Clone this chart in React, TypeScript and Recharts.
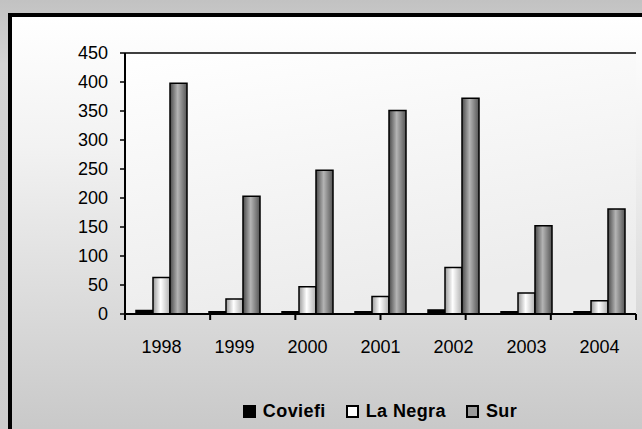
import React from "react";
import {
  BarChart,
  Bar,
  XAxis,
  YAxis,
  CartesianGrid,
  Legend,
} from "recharts";

const years = ["1998", "1999", "2000", "2001", "2002", "2003", "2004"];
const coviefi = [6, 4, 4, 4, 7, 4, 4];
const laNegra = [63, 26, 47, 30, 80, 36, 23];
const sur = [398, 203, 248, 351, 372, 152, 181];
const yTicks = [0, 50, 100, 150, 200, 250, 300, 350, 400, 450];
const bandTicks = [0, 1, 2, 3, 4, 5, 6, 7];

const data = years.map((year, i) => ({
  year,
  Coviefi: coviefi[i],
  "La Negra": laNegra[i],
  Sur: sur[i],
}));

const font = "'Liberation Sans', Arial, sans-serif";

const legendItems = [
  { name: "Coviefi", fill: "#000" },
  { name: "La Negra", fill: "#fff" },
  { name: "Sur", fill: "#9a9a9a" },
];

function ChartLegend() {
  return (
    <div
      style={{
        display: "flex",
        justifyContent: "center",
        alignItems: "center",
        height: 22,
        fontFamily: font,
        fontWeight: "bold",
        fontSize: 18,
        letterSpacing: 0.4,
        color: "#000",
        paddingLeft: 118,
        boxSizing: "border-box",
      }}
    >
      {legendItems.map((it, i) => (
        <span
          key={it.name}
          style={{
            display: "flex",
            alignItems: "center",
            marginRight: i < legendItems.length - 1 ? 20 : 0,
          }}
        >
          <span
            style={{
              display: "inline-block",
              width: 9,
              height: 9,
              background: it.fill,
              border: "2px solid #000",
              marginRight: 7,
            }}
          />
          {it.name}
        </span>
      ))}
    </div>
  );
}

export default function App() {
  return (
    <div
      style={{
        position: "absolute",
        left: 0,
        top: 0,
        width: 642,
        height: 429,
        overflow: "hidden",
        background: "linear-gradient(#c2c2c2, #d4d4d4 15%, #cdcdcd)",
      }}
    >
      <div
        style={{
          position: "absolute",
          left: 8,
          top: 13,
          width: 660,
          height: 440,
          border: "4px solid #000",
          boxSizing: "border-box",
          background: "linear-gradient(#ffffff, #f2f2f2 30%, #c9c9c9 95%)",
        }}
      />
      <div style={{ position: "absolute", left: 0, top: 0 }}>
        <BarChart
          width={642}
          height={429}
          data={data}
          margin={{ top: 53, right: 6, left: 65, bottom: 47 }}
          barCategoryGap={11}
          barGap={0}
        >
          <defs>
            <linearGradient id="gWhite" x1="0" y1="0" x2="1" y2="0">
              <stop offset="0%" stopColor="#9a9a9a" />
              <stop offset="45%" stopColor="#ffffff" />
              <stop offset="100%" stopColor="#b0b0b0" />
            </linearGradient>
            <linearGradient id="gGray" x1="0" y1="0" x2="1" y2="0">
              <stop offset="0%" stopColor="#4a4a4a" />
              <stop offset="45%" stopColor="#b4b4b4" />
              <stop offset="100%" stopColor="#555555" />
            </linearGradient>
            <linearGradient id="gPlot" x1="0" y1="0" x2="0.3" y2="1">
              <stop offset="0%" stopColor="#ffffff" />
              <stop offset="100%" stopColor="#ececec" />
            </linearGradient>
          </defs>
          <CartesianGrid
            vertical={false}
            stroke="#000"
            strokeWidth={1.5}
            fill="url(#gPlot)"
            fillOpacity={1}
          />
          <XAxis
            xAxisId="band"
            type="number"
            domain={[0, 7]}
            ticks={bandTicks}
            tickFormatter={() => ""}
            height={6}
            tickSize={6}
            axisLine={{ stroke: "#000", strokeWidth: 2 }}
            tickLine={{ stroke: "#000", strokeWidth: 2 }}
          />
          <XAxis
            dataKey="year"
            xAxisId="cat"
            height={40}
            axisLine={false}
            tickLine={false}
            tickSize={0}
            tickMargin={20}
            tick={{ fill: "#000", fontSize: 18, fontFamily: font }}
          />
          <XAxis
            xAxisId="top"
            orientation="top"
            type="number"
            domain={[0, 7]}
            height={0}
            tick={false}
            tickLine={false}
            axisLine={{ stroke: "#8a8a8a", strokeWidth: 3 }}
          />
          <YAxis
            yAxisId="l"
            domain={[0, 450]}
            ticks={yTicks}
            width={60}
            tickSize={5}
            tickMargin={12}
            axisLine={{ stroke: "#000", strokeWidth: 2 }}
            tickLine={{ stroke: "#000", strokeWidth: 1.5 }}
            tick={{ fill: "#000", fontSize: 18, fontFamily: font }}
          />
          <YAxis
            yAxisId="r"
            orientation="right"
            domain={[0, 450]}
            width={0}
            tick={false}
            tickLine={false}
            axisLine={{ stroke: "#8a8a8a", strokeWidth: 3 }}
          />
          <Legend
            verticalAlign="bottom"
            wrapperStyle={{ top: 400, left: 0, width: 642 }}
            content={() => <ChartLegend />}
          />
          <Bar
            dataKey="Coviefi"
            xAxisId="cat"
            yAxisId="l"
            fill="#000"
            stroke="#000"
            strokeWidth={1.5}
            barSize={17}
            isAnimationActive={false}
          />
          <Bar
            dataKey="La Negra"
            xAxisId="cat"
            yAxisId="l"
            fill="url(#gWhite)"
            stroke="#000"
            strokeWidth={1.5}
            barSize={17}
            isAnimationActive={false}
          />
          <Bar
            dataKey="Sur"
            xAxisId="cat"
            yAxisId="l"
            fill="url(#gGray)"
            stroke="#000"
            strokeWidth={1.5}
            barSize={17}
            isAnimationActive={false}
          />
        </BarChart>
      </div>
    </div>
  );
}
